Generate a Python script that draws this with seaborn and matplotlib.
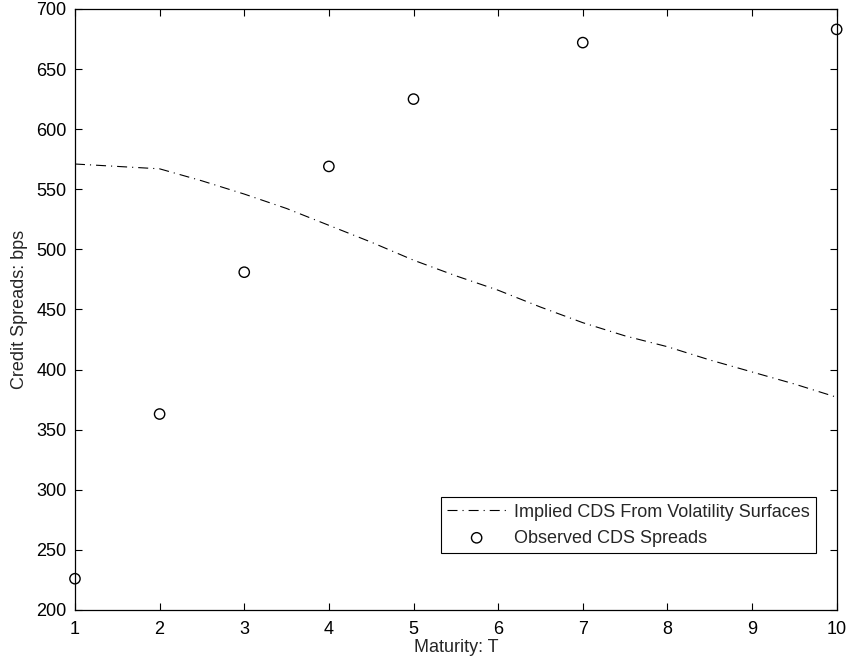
import numpy as np
import pandas as pd
import matplotlib
matplotlib.use("Agg")
import matplotlib.pyplot as plt
import seaborn as sns

# ------------------------------------------------------------
# Daten
# ------------------------------------------------------------
curve_T = [1, 2, 2.5, 3, 3.5, 4, 4.5, 5, 5.5, 6, 6.5, 7, 7.5, 8, 8.5, 9, 9.5, 10]
curve_bps = [571, 567, 557, 546, 534, 520, 506, 491, 478, 466,
             452, 439, 428, 419, 408, 398, 388, 377]

obs_T = [1, 2, 3, 4, 5, 7, 10]
obs_bps = [226, 363, 481, 569, 625, 672, 683]

x_ticks = list(range(1, 11))
y_ticks = list(range(200, 701, 50))

curve_df = pd.DataFrame({"T": curve_T, "bps": curve_bps})
obs_df = pd.DataFrame({"T": obs_T, "bps": obs_bps})

# ------------------------------------------------------------
# Plot
# ------------------------------------------------------------
sns.set_style("ticks")
plt.rcParams["font.family"] = ["Liberation Sans", "DejaVu Sans"]

fig = plt.figure(figsize=(8.52, 6.63), dpi=100)
ax = fig.add_axes([0.088, 0.080, 0.894, 0.9065])

sns.lineplot(data=curve_df, x="T", y="bps", ax=ax, color="black",
             linewidth=0.8, label="Implied CDS From Volatility Surfaces")
ax.lines[0].set_dashes([9, 4.5, 1, 4.5])

sns.scatterplot(data=obs_df, x="T", y="bps", ax=ax, marker="o", s=55,
                facecolor="none", edgecolor="black", linewidth=1.0,
                label="Observed CDS Spreads", clip_on=False, zorder=5)

ax.set_xlim(1, 10)
ax.set_ylim(200, 700)
ax.set_xticks(x_ticks)
ax.set_yticks(y_ticks)
ax.tick_params(direction="in", length=5, width=0.8, top=True, right=True,
               labelsize=13, colors="black", pad=6)
ax.tick_params(axis="x", pad=8)
for sp in ax.spines.values():
    sp.set_visible(True)
    sp.set_linewidth(0.9)
    sp.set_color("black")

ax.set_xlabel("Maturity: T", fontsize=13, labelpad=1)
ax.set_ylabel("Credit Spreads: bps", fontsize=13, labelpad=6)

leg = ax.legend(loc="lower right", bbox_to_anchor=(0.9725, 0.095),
                borderaxespad=0, fontsize=13, frameon=True, fancybox=False,
                edgecolor="black", framealpha=1, borderpad=0.35,
                handlelength=3.3, handletextpad=0.4, labelspacing=0.5)
leg.get_frame().set_linewidth(0.8)

fig.savefig("out.png", dpi=100)
plt.close(fig)
